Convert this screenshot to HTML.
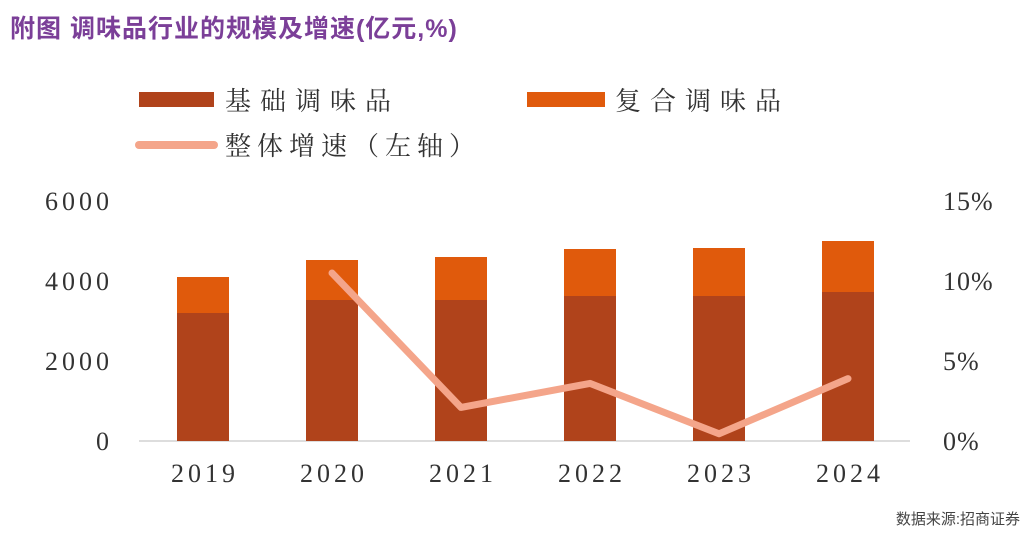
<!DOCTYPE html>
<html><head><meta charset="utf-8"><style>
body{margin:0;background:#fff;}
svg{display:block;font-family:"Liberation Serif","Noto Serif CJK SC",serif;}
</style></head><body>
<svg id="c" width="1034" height="536" viewBox="0 0 1034 536">
<text x="10" y="37" font-family="Liberation Sans, Noto Sans CJK SC, sans-serif" font-size="25" font-weight="bold" fill="#7b3f98" letter-spacing="1">附图  调味品行业的规模及增速(亿元,%)</text>
<g>
<rect x="139" y="92" width="75" height="15" fill="#b0431b"/>
<text x="225" y="110" font-size="26" fill="#333" letter-spacing="9" font-family="Noto Serif CJK SC, serif">基础调味品</text>
<rect x="527" y="92" width="78" height="15" fill="#e05a0c"/>
<text x="615" y="110" font-size="26" fill="#333" letter-spacing="9" font-family="Noto Serif CJK SC, serif">复合调味品</text>
<line x1="139" y1="145" x2="214" y2="145" stroke="#f4a58a" stroke-width="8" stroke-linecap="round"/>
<text x="225" y="155" font-size="26" fill="#333" letter-spacing="6" font-family="Noto Serif CJK SC, serif">整体增速（左轴）</text>
</g>
<line x1="139" y1="441" x2="910" y2="441" stroke="#bbb" stroke-width="1"/>
<g id="marks"></g>
<text x="1020" y="524" text-anchor="end" font-family="Liberation Sans, Noto Sans CJK SC, sans-serif" font-size="15" fill="#444">数据来源:招商证券</text>
</svg>
<script>
const years=["2019","2020","2021","2022","2023","2024"];
const basic=[3200,3525,3525,3625,3625,3725];
const compound=[900,1000,1075,1175,1200,1275];
const growth=[null,10.5,2.1,3.6,0.45,3.9];
const leftTicks=[0,2000,4000,6000];
const rightTicks=[0,5,10,15];
const NS="http://www.w3.org/2000/svg";
const g=document.getElementById('marks');
const y0=441,ph=240;
const yL=v=>y0-v/6000*ph;
const yR=v=>y0-v/15*ph;
const xC=i=>203+i*129;
const bw=52;
function mk(t,a){const e=document.createElementNS(NS,t);for(const k in a)e.setAttribute(k,a[k]);g.appendChild(e);return e;}
leftTicks.forEach(v=>{const t=mk('text',{x:113,y:yL(v)+9,'text-anchor':'end','font-size':26,fill:'#333','letter-spacing':'4'});t.textContent=v;

});
rightTicks.forEach(v=>{const t=mk('text',{x:943,y:yR(v)+9,'font-size':26,fill:'#333','letter-spacing':'1'});t.textContent=v+'%';

});
years.forEach((yr,i)=>{
const b=mk('rect',{x:xC(i)-bw/2,y:yL(basic[i]),width:bw,height:y0-yL(basic[i]),fill:'#b0431b'});


const c=mk('rect',{x:xC(i)-bw/2,y:yL(basic[i]+compound[i]),width:bw,height:yL(basic[i])-yL(basic[i]+compound[i]),fill:'#e05a0c'});


const t=mk('text',{x:xC(i)+2,y:482,'text-anchor':'middle','font-size':26,fill:'#333','letter-spacing':'4'});t.textContent=yr;


});
const pts=growth.map((v,i)=>v==null?null:xC(i)+','+yR(v)).filter(p=>p).join(' ');
const l=mk('polyline',{points:pts,fill:'none',stroke:'#f4a58a','stroke-width':7,'stroke-linejoin':'round','stroke-linecap':'round'});


</script>
</body></html>
